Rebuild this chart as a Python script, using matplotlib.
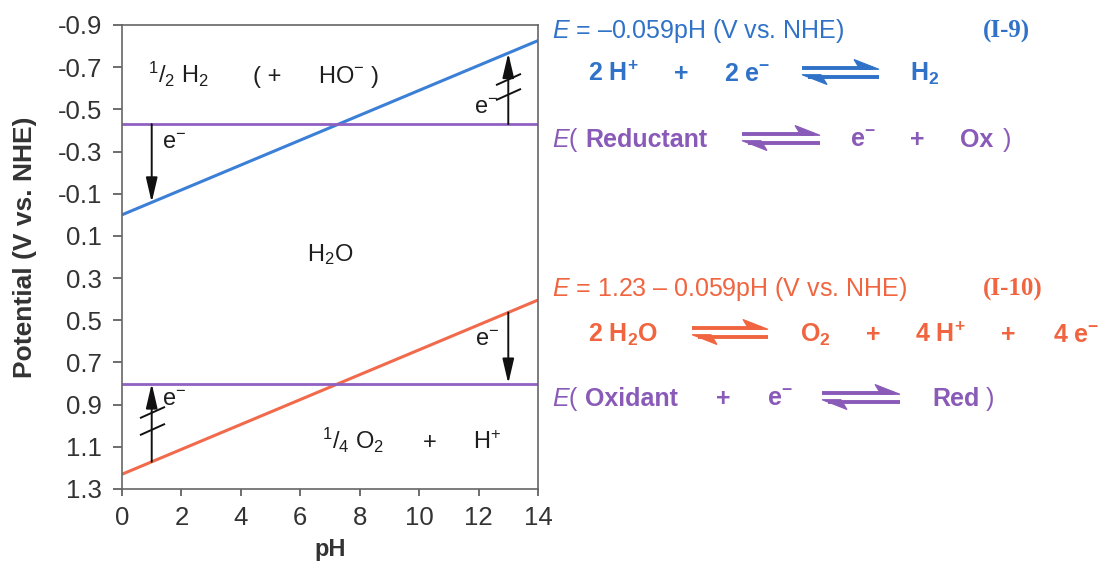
import numpy as np
import matplotlib
matplotlib.use("Agg")
import matplotlib.pyplot as plt
from matplotlib.path import Path
from matplotlib.patches import Polygon

# ---------------- data ----------------
ph_ends = [0, 14]
e_h2_line = [0.00, -0.826]      # E = -0.059 pH
e_o2_line = [1.23, 0.404]       # E = 1.23 - 0.059 pH
e_reductant = -0.43
e_oxidant = 0.80
y_ticks = [-0.9, -0.7, -0.5, -0.3, -0.1, 0.1, 0.3, 0.5, 0.7, 0.9, 1.1, 1.3]
x_ticks = [0, 2, 4, 6, 8, 10, 12, 14]
# electron-transfer arrows: (pH, tail E, head E, crossed)
arrow_ph = [1, 13, 13, 1]
arrow_tail = [-0.43, -0.43, 0.463, 1.171]
arrow_head = [-0.059, -0.767, 0.80, 0.80]
arrow_crossed = [False, True, False, True]

# ---------------- style ----------------
plt.rcParams['font.family'] = ['Liberation Sans', 'DejaVu Sans']
plt.rcParams['axes.unicode_minus'] = False
plt.rcParams['mathtext.fontset'] = 'custom'
plt.rcParams['mathtext.rm'] = 'Liberation Sans'
plt.rcParams['mathtext.it'] = 'Liberation Sans:italic'
plt.rcParams['mathtext.bf'] = 'Liberation Sans:bold'

BLUE_L = '#3b7fd6'
RED_L = '#f26a4c'
PURP_L = '#9060c2'
BLUE_T = '#2f72c8'
RED_T = '#f0653f'
PURP_T = '#8a5ab8'
DARK = '#1e1e1e'

W, H = 1099, 563
fig = plt.figure(figsize=(W / 100, H / 100), dpi=100)
ax = fig.add_axes([122 / W, 1 - 489 / H, 416 / W, 464 / H])

ax.plot(ph_ends, e_h2_line, color=BLUE_L, lw=2.2, solid_capstyle='butt')
ax.plot(ph_ends, e_o2_line, color=RED_L, lw=2.2, solid_capstyle='butt')
ax.axhline(e_reductant, color=PURP_L, lw=2.0)
ax.axhline(e_oxidant, color=PURP_L, lw=2.0)

ax.set_xlim(0, 14)
ax.set_ylim(1.3, -0.9)
ax.set_xticks(x_ticks)
ax.set_yticks(y_ticks)
ax.set_yticklabels(['%.1f' % v for v in y_ticks])
for s in ax.spines.values():
    s.set_color('#666666')
    s.set_linewidth(1.2)
ax.tick_params(axis='both', colors='#555555', labelcolor='#333333',
               labelsize=18.5, width=1.2)
ax.tick_params(axis='y', length=6.5, pad=8)
ax.tick_params(axis='x', length=5, pad=7)
ax.set_xlabel('pH', fontsize=17, fontweight='bold', color='#333333')
ax.set_ylabel('Potential (V vs. NHE)', fontsize=19, fontweight='bold', color='#333333')
ax.xaxis.set_label_coords(0.5, -0.105)
ax.yaxis.set_label_coords(-0.205, 0.52)

# arrows
hatch = Path([(-1.0, -0.45), (1.0, 0.45)], [Path.MOVETO, Path.LINETO])
for p, t, h, c in zip(arrow_ph, arrow_tail, arrow_head, arrow_crossed):
    ax.annotate('', xy=(p, h), xytext=(p, t),
                arrowprops=dict(arrowstyle='-|>,head_length=1.5,head_width=0.35',
                                mutation_scale=10, lw=1.4, color='#111111',
                                shrinkA=0, shrinkB=0))
    if c:
        hy = [t + 0.42 * (h - t), t + 0.63 * (h - t)]
        ax.plot([p, p], hy, linestyle='none', marker=hatch, markersize=18,
                mec='#111111', mfc='none', mew=1.4)

# electron labels
ax.text(1.35, -0.34, 'e$^{-}$', fontsize=17, color=DARK, ha='left', va='center')
ax.text(12.65, -0.507, 'e$^{-}$', fontsize=17, color=DARK, ha='right', va='center')
ax.text(12.7, 0.593, 'e$^{-}$', fontsize=17, color=DARK, ha='right', va='center')
ax.text(1.35, 0.877, 'e$^{-}$', fontsize=17, color=DARK, ha='left', va='center')

# species labels
FSI = 17
ax.text(0.875, -0.625, r'$^{1}/_{2}$ H$_{2}$', fontsize=FSI, color=DARK, va='baseline')
ax.text(4.41, -0.625, '( +', fontsize=FSI, color=DARK, va='baseline')
ax.text(6.6, -0.625, 'HO$^{-}$ )', fontsize=FSI, color=DARK, va='baseline')
ax.text(7.0, 0.218, 'H$_{2}$O', fontsize=FSI, color=DARK, va='baseline', ha='center')
ax.text(6.73, 1.109, r'$^{1}/_{4}$ O$_{2}$', fontsize=FSI, color=DARK, va='baseline')
ax.text(10.37, 1.109, '+', fontsize=FSI, color=DARK, va='baseline', ha='center')
ax.text(11.81, 1.109, 'H$^{+}$', fontsize=FSI, color=DARK, va='baseline')

# ---------------- right-hand equations (pixel overlay) ----------------
ov = fig.add_axes([0, 0, 1, 1], facecolor='none')
ov.set_xlim(0, W)
ov.set_ylim(H, 0)
ov.axis('off')

FS = 18


def t(x, y, s, color, bold=False, ha='left', fam=None, fs=FS):
    kw = dict(fontsize=fs, color=color, ha=ha, va='baseline',
              fontweight='bold' if bold else 'normal')
    if fam:
        kw['family'] = fam
    ov.text(x, y, s, **kw)


def harpoon(x0, x1, yc, color):
    g = 4.5
    yt, yb = yc - g, yc + g
    ov.plot([x0, x1 - 6], [yt, yt], color=color, lw=2.8, solid_capstyle='butt')
    ov.plot([x0 + 6, x1], [yb, yb], color=color, lw=2.8, solid_capstyle='butt')
    ov.add_patch(Polygon([(x1, yt + 1.8), (x1 - 25, yt - 8), (x1 - 19, yt + 1.8)],
                         closed=True, fc=color, ec=color, lw=0.8))
    ov.add_patch(Polygon([(x0, yb - 1.8), (x0 + 25, yb + 8), (x0 + 19, yb - 1.8)],
                         closed=True, fc=color, ec=color, lw=0.8))


# Row 1
t(552, 38, '$E$ = \u20130.059pH (V vs. NHE)', BLUE_T)
t(983, 38, '(I-9)', BLUE_T, bold=True, fam='Liberation Serif')
# Row 2
t(588, 81, r'$\mathbf{2\ H^{+}}$', BLUE_T)
t(681, 81, '+', BLUE_T, bold=True, ha='center')
t(724, 81, r'$\mathbf{2\ e^{-}}$', BLUE_T)
harpoon(802, 879, 72, BLUE_T)
t(910, 81, r'$\mathbf{H_{2}}$', BLUE_T)
# Row 3
t(552, 147, '$E$(', PURP_T)
t(585, 147, 'Reductant', PURP_T, bold=True)
harpoon(742, 820, 138, PURP_T)
t(850, 147, r'$\mathbf{e^{-}}$', PURP_T)
t(917, 147, '+', PURP_T, bold=True, ha='center')
t(960, 147, 'Ox', PURP_T, bold=True)
t(1003, 147, ')', PURP_T)
# Row 4
t(552, 296, '$E$ = 1.23 \u2013 0.059pH (V vs. NHE)', RED_T)
t(983, 296, '(I-10)', RED_T, bold=True, fam='Liberation Serif')
# Row 5
t(588, 342, r'$\mathbf{2\ H_{2}O}$', RED_T)
harpoon(692, 768, 332, RED_T)
t(800, 342, r'$\mathbf{O_{2}}$', RED_T)
t(873, 342, '+', RED_T, bold=True, ha='center')
t(915, 342, r'$\mathbf{4\ H^{+}}$', RED_T)
t(1008, 342, '+', RED_T, bold=True, ha='center')
t(1053, 342, r'$\mathbf{4\ e^{-}}$', RED_T)
# Row 6
t(552, 406, '$E$(', PURP_T)
t(585, 406, 'Oxidant', PURP_T, bold=True)
t(723, 406, '+', PURP_T, bold=True, ha='center')
t(767, 406, r'$\mathbf{e^{-}}$', PURP_T)
harpoon(822, 900, 397, PURP_T)
t(932, 406, 'Red', PURP_T, bold=True)
t(986, 406, ')', PURP_T)

fig.savefig('out.png', dpi=100)
